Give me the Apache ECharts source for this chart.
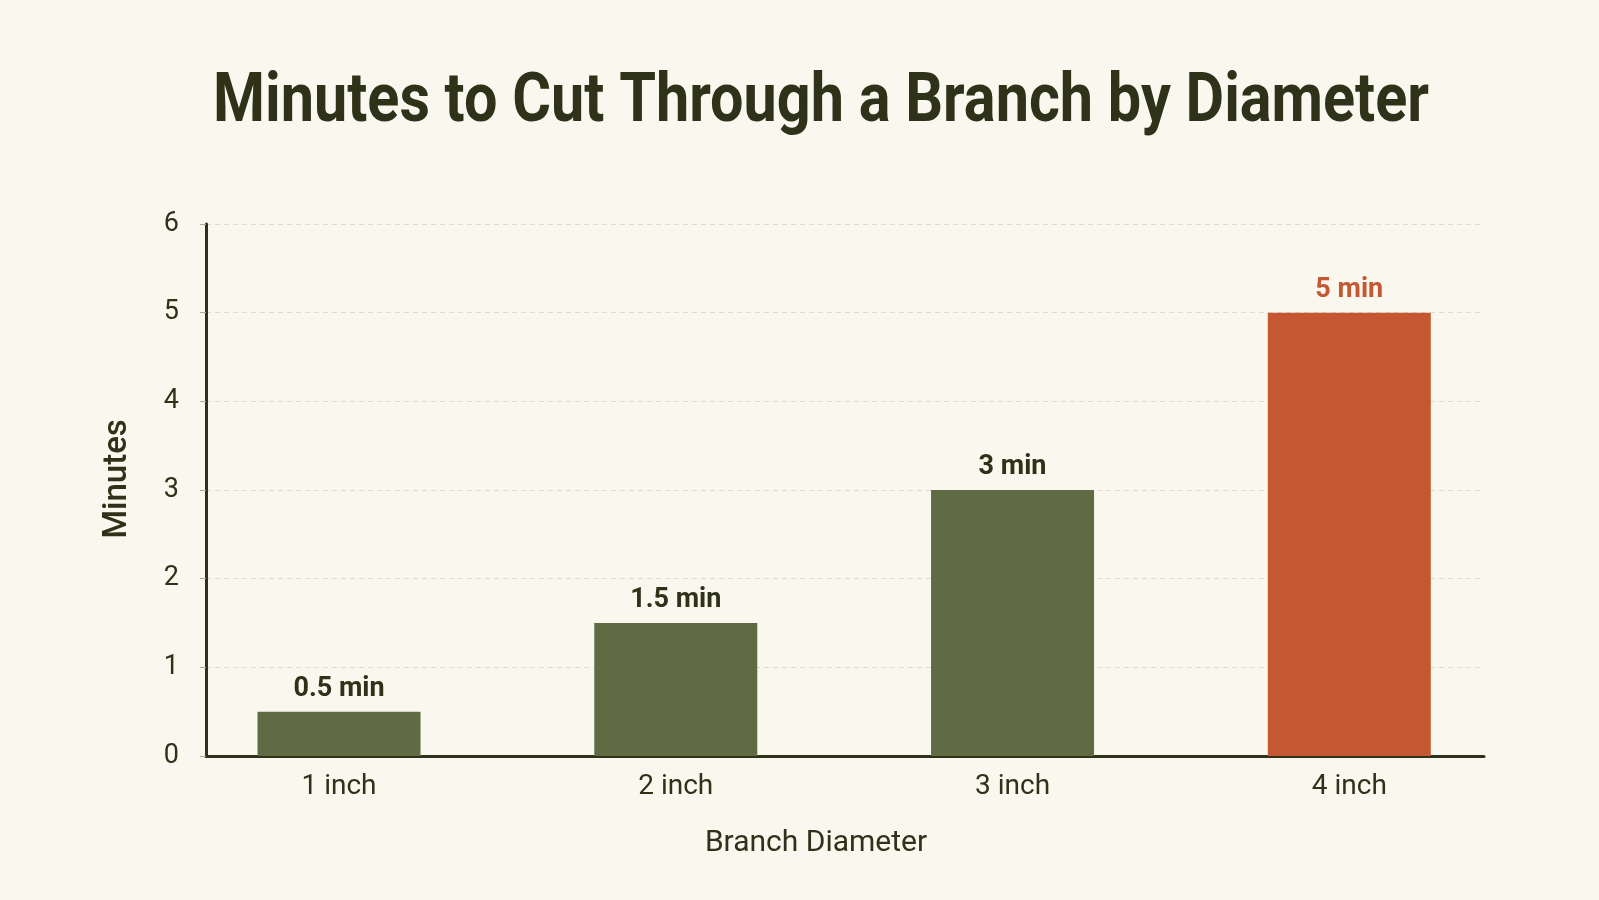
<!DOCTYPE html>
<html>
<head>
<meta charset="utf-8">
<title>Minutes to Cut Through a Branch by Diameter</title>
<script src="https://cdn.jsdelivr.net/npm/echarts@6/dist/echarts.min.js"></script>
<style>
  html, body { margin: 0; padding: 0; background: #faf7ee; }
  #chart-container { width: 1599px; height: 900px; }
</style>
</head>
<body>
<div id="chart-container"></div>
<script>
// branch diameters in inches (also used as the tick labels)
var diameters = [1, 2, 3, 4];
var minutes = [0.5, 1.5, 3, 5];
var yTicks = [0, 1, 2, 3, 4, 5, 6];

var green = "#606b44";
var red = "#c35833";
var ink = "#2e3219";

var dom = document.getElementById("chart-container");
var myChart = echarts.init(dom, null, { renderer: "canvas" });

var barData = diameters.map(function (d, i) {
  var last = i === diameters.length - 1;
  return {
    value: [d, minutes[i]],
    itemStyle: { color: last ? red : green },
    label: { color: last ? red : ink }
  };
});

var option = {
  backgroundColor: "#faf7ee",
  // title drawn as a squeezed text so it keeps the narrow look
  graphic: [
    {
      type: "text",
      x: 821,
      y: 104,
      scaleX: 0.873,
      style: {
        text: "Minutes to Cut Through a Branch by Diameter",
        font: "bold 68px Roboto",
        fill: ink,
        align: "center",
        verticalAlign: "middle"
      }
    }
  ],
  grid: { left: 206, right: 115, top: 224, bottom: 144 },
  xAxis: {
    type: "value",
    min: 0.605,
    max: 4.4,
    name: "Branch Diameter",
    nameLocation: "middle",
    nameGap: 72,
    nameTextStyle: {
      fontFamily: "Roboto",
      fontSize: 30,
      color: ink,
      padding: [0, 58, 0, 0]
    },
    axisLine: { show: true, lineStyle: { color: ink, width: 3 } },
    axisTick: { show: false },
    splitLine: { show: false },
    axisLabel: {
      customValues: diameters,
      formatter: function (v) { return v + " inch"; },
      fontFamily: "Roboto",
      fontSize: 28,
      color: ink,
      margin: 17
    }
  },
  yAxis: {
    type: "value",
    min: 0,
    max: 6,
    interval: 1,
    name: "Minutes",
    nameLocation: "middle",
    nameGap: 72,
    nameTextStyle: {
      fontFamily: "Roboto",
      fontWeight: 500,
      fontSize: 33,
      color: ink,
      padding: [0, 0, 0, 22]
    },
    axisLine: { show: true, lineStyle: { color: ink, width: 3 } },
    axisTick: { show: true, length: 6, lineStyle: { color: "#a9a797" } },
    axisLabel: {
      customValues: yTicks,
      fontFamily: "Roboto",
      fontSize: 27,
      color: ink,
      margin: 27
    },
    splitLine: {
      show: true,
      lineStyle: { color: "#dedbd0", type: [5, 4], width: 1 }
    }
  },
  series: [
    {
      type: "bar",
      data: barData,
      barWidth: 163,
      label: {
        show: true,
        position: "top",
        distance: 9,
        fontFamily: "Roboto",
        fontWeight: "bold",
        fontSize: 27,
        formatter: function (p) { return p.value[1] + " min"; }
      }
    }
  ]
};

myChart.setOption(option);
window.addEventListener("resize", myChart.resize);
</script>
</body>
</html>
